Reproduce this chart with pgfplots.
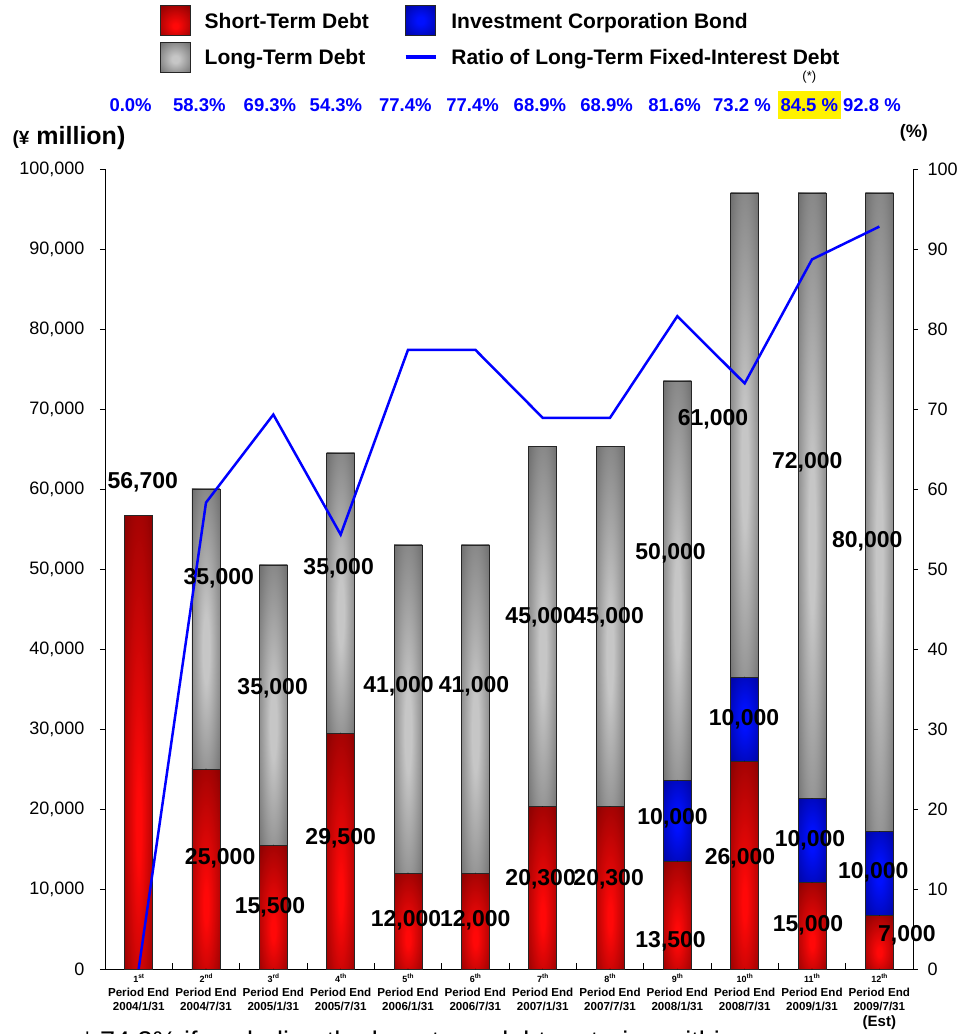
\documentclass[border=0pt]{standalone}
\usepackage{fontspec}
\setmainfont{Liberation Sans}
\usepackage{pgfplots}
\usepackage{pgfplotstable}
\pgfplotsset{compat=1.18}

\definecolor{brightred}{HTML}{FF0808}
\definecolor{darkred}{HTML}{6E0000}
\definecolor{lightgrey}{HTML}{C6C6C6}
\definecolor{darkgrey}{HTML}{4C4C4C}
\definecolor{brightblue}{HTML}{0010FF}
\definecolor{darkblue}{HTML}{00007A}
\definecolor{ratioblue}{HTML}{0000FF}

\pgfdeclareradialshading{redbar}{\pgfpoint{0bp}{-10bp}}{color(0bp)=(brightred); color(4bp)=(brightred); color(46bp)=(darkred); color(60bp)=(darkred)}
\pgfdeclareradialshading{greybar}{\pgfpoint{0bp}{-4bp}}{color(0bp)=(lightgrey); color(6bp)=(lightgrey); color(48bp)=(darkgrey); color(60bp)=(darkgrey)}
\pgfdeclareradialshading{bluebar}{\pgfpoint{0bp}{0bp}}{color(0bp)=(brightblue); color(6bp)=(brightblue); color(48bp)=(darkblue); color(60bp)=(darkblue)}

% segments as drawn (yen million): x, bottom of segment, height
\pgfplotstableread{
x lo h
0 0 56700
1 0 25000
2 0 15500
3 0 29500
4 0 12000
5 0 12000
6 0 20300
7 0 20300
8 0 13500
9 0 26000
10 0 10800
11 0 6700
}\shortdebt
\pgfplotstableread{
x lo h
8 13500 10100
9 26000 10500
10 10800 10500
11 6700 10500
}\bonds
\pgfplotstableread{
x lo h
1 25000 35000
2 15500 35000
3 29500 35000
4 12000 41000
5 12000 41000
6 20300 45000
7 20300 45000
8 23600 49900
9 36500 60500
10 21300 75700
11 17200 79800
}\longdebt

% ratio of long-term fixed-interest debt (%)
\pgfplotstableread{
x ratio
0 0
1 58.3
2 69.3
3 54.3
4 77.4
5 77.4
6 68.9
7 68.9
8 81.6
9 73.2
10 88.7
11 92.8
}\ratio

\newcommand{\lbl}{\bfseries\fontsize{23}{25}\selectfont}
\newcommand{\pct}{\bfseries\fontsize{18.5}{20}\selectfont\color{ratioblue}}
\newcommand{\ord}[2]{{\fontsize{9}{11}\selectfont #1\raisebox{0.45em}{\fontsize{6.5}{7}\selectfont #2}}}

% one shaded bar per data point; 800pt / 100000 = 0.008pt per yen million
\pgfplotsset{
  segment/.style={
    scatter, only marks, mark=*, mark size=0.01pt,
    mark options={draw=none, fill=none},
    visualization depends on={0.008*\thisrow{h} \as \hpt},
    scatter/@pre marker code/.code={\path[draw=black!85, line width=0.6pt, shade, shading=#1] (-14pt,0pt) rectangle (14pt,\hpt pt);},
    scatter/@post marker code/.code={},
    legend image code/.code={\path[draw=black!85, line width=0.6pt, shade, shading=#1] (0pt,-14pt) rectangle (30pt,16pt);},
  },
}

\begin{document}
\begin{tikzpicture}
\useasboundingbox (-105pt,-65pt) rectangle (853pt,969pt);
\begin{axis}[
  scale only axis, width=808pt, height=800pt,
  xmin=-0.5, xmax=11.5, ymin=0, ymax=100000,
  axis x line*=bottom, axis y line*=left,
  axis line style={black, line width=0.8pt},
  clip=false,
  tick align=inside,
  major tick length=5pt, minor tick length=6pt,
  xtick={0,...,11},
  minor xtick={0.5,1.5,...,10.5},
  major x tick style={draw=none},
  minor x tick style={black, line width=0.6pt},
  ytick={0,10000,...,100000},
  ytick style={black, line width=0.6pt, xshift=-5pt},
  scaled y ticks=false,
  yticklabel={\pgfmathprintnumber[fixed, precision=0, 1000 sep={,}, assume math mode=true]{\tick}},
  yticklabel style={font=\fontsize{18}{20}\selectfont, xshift=-17pt},
  xticklabels={
    \ord{1}{st}\\Period End\\2004/1/31,
    \ord{2}{nd}\\Period End\\2004/7/31,
    \ord{3}{rd}\\Period End\\2005/1/31,
    \ord{4}{th}\\Period End\\2005/7/31,
    \ord{5}{th}\\Period End\\2006/1/31,
    \ord{6}{th}\\Period End\\2006/7/31,
    \ord{7}{th}\\Period End\\2007/1/31,
    \ord{8}{th}\\Period End\\2007/7/31,
    \ord{9}{th}\\Period End\\2008/1/31,
    \ord{10}{th}\\Period End\\2008/7/31,
    \ord{11}{th}\\Period End\\2009/1/31,
    \ord{12}{th}\\Period End\\2009/7/31\\[2pt]{\fontsize{15}{17}\selectfont (Est)}},
  xticklabel style={align=center, anchor=north, inner sep=1pt, yshift=-4pt,
    font=\bfseries\fontsize{11.6}{14}\selectfont},
  legend columns=2,
  legend cell align=left,
  legend style={at={(axis description cs:0.068,1.205)}, anchor=north west,
    draw=none, fill=none, inner sep=0pt, row sep=6pt,
    font=\bfseries\fontsize{21}{24}\selectfont,
    /tikz/every odd column/.append style={column sep=12pt},
    /tikz/column 2/.append style={column sep=33pt}},
]
\addplot[segment=redbar] table[x=x, y=lo]{\shortdebt};
\addlegendentry{Short-Term Debt}
\addplot[segment=bluebar] table[x=x, y=lo]{\bonds};
\addlegendentry{Investment Corporation Bond}
\addplot[segment=greybar] table[x=x, y=lo]{\longdebt};
\addlegendentry{Long-Term Debt}
\addlegendimage{legend image code/.code={\draw[ratioblue, line width=3.5pt] (0pt,1pt) -- (30pt,1pt);}}
\addlegendentry{Ratio of Long-Term Fixed-Interest Debt}

% ratio row
\node[font=\pct] at (axis cs:-0.12,108000) {0.0\%};
\node[font=\pct] at (axis cs:0.90,108000) {58.3\%};
\node[font=\pct] at (axis cs:1.95,108000) {69.3\%};
\node[font=\pct] at (axis cs:2.93,108000) {54.3\%};
\node[font=\pct] at (axis cs:3.96,108000) {77.4\%};
\node[font=\pct] at (axis cs:4.96,108000) {77.4\%};
\node[font=\pct] at (axis cs:5.96,108000) {68.9\%};
\node[font=\pct] at (axis cs:6.95,108000) {68.9\%};
\node[font=\pct] at (axis cs:7.96,108000) {81.6\%};
\node[font=\pct] at (axis cs:8.96,108000) {73.2 \%};
\node[font=\pct, fill=yellow, inner xsep=3pt, minimum height=28pt] at (axis cs:9.96,108000) {84.5 \%};
\node[font=\pct] at (axis cs:10.89,108000) {92.8 \%};
\node[font=\fontsize{13}{15}\selectfont] at (axis cs:9.96,111500) {(*)};

\node[font=\bfseries\fontsize{25}{27}\selectfont] at (axis description cs:-0.0446,1.039) {{\fontsize{19}{21}\selectfont(¥} million)};
\node[font=\bfseries\fontsize{18}{20}\selectfont] at (axis description cs:1.001,1.045) {(\%)};
\node[anchor=north west, inner sep=0pt, font=\fontsize{27}{29}\selectfont] at (axis description cs:-0.0285,-0.0775) {* 74.3\% if excluding the long-term debt maturing within};
\end{axis}

\begin{axis}[
  scale only axis, width=808pt, height=800pt,
  xmin=-0.5, xmax=11.5, ymin=0, ymax=100,
  axis y line*=right, axis x line=none,
  axis line style={black, line width=0.8pt},
  clip=false,
  tick align=outside, major tick length=5pt,
  ytick={0,10,...,100},
  ytick style={black, line width=0.6pt},
  yticklabel={\pgfmathprintnumber[fixed, precision=0, assume math mode=true]{\tick}},
  yticklabel style={font=\fontsize{18}{20}\selectfont, xshift=6pt},
]
\addplot[ratioblue, line width=2.5pt, mark=none] table[x=x, y=ratio]{\ratio};

% value labels (y in thousands of yen million on this axis)
\node[font=\lbl] at (axis cs:0.06,60.9) {56,700};
\node[font=\lbl] at (axis cs:1.19,48.9) {35,000};
\node[font=\lbl] at (axis cs:1.21,13.875) {25,000};
\node[font=\lbl] at (axis cs:1.99,35.125) {35,000};
\node[font=\lbl] at (axis cs:1.95,7.75) {15,500};
\node[font=\lbl] at (axis cs:2.97,50.125) {35,000};
\node[font=\lbl] at (axis cs:3.0,16.375) {29,500};
\node[font=\lbl] at (axis cs:3.86,35.375) {41,000};
\node[font=\lbl] at (axis cs:3.97,6.125) {12,000};
\node[font=\lbl] at (axis cs:4.98,35.375) {41,000};
\node[font=\lbl] at (axis cs:5.0,6.125) {12,000};
\node[font=\lbl] at (axis cs:5.97,44.0) {45,000};
\node[font=\lbl] at (axis cs:5.97,11.25) {20,300};
\node[font=\lbl] at (axis cs:6.98,44.0) {45,000};
\node[font=\lbl] at (axis cs:6.98,11.25) {20,300};
\node[font=\lbl] at (axis cs:7.90,52.0) {50,000};
\node[font=\lbl] at (axis cs:7.93,18.875) {10,000};
\node[font=\lbl] at (axis cs:7.90,3.5) {13,500};
\node[font=\lbl] at (axis cs:8.53,68.75) {61,000};
\node[font=\lbl] at (axis cs:8.99,31.25) {10,000};
\node[font=\lbl] at (axis cs:8.93,13.875) {26,000};
\node[font=\lbl] at (axis cs:9.93,63.375) {72,000};
\node[font=\lbl] at (axis cs:9.97,16.125) {10,000};
\node[font=\lbl] at (axis cs:9.94,5.5) {15,000};
\node[font=\lbl] at (axis cs:10.82,53.5) {80,000};
\node[font=\lbl] at (axis cs:10.91,12.125) {10,000};
\node[font=\lbl] at (axis cs:11.41,4.25) {7,000};
\end{axis}
\end{tikzpicture}
\end{document}
